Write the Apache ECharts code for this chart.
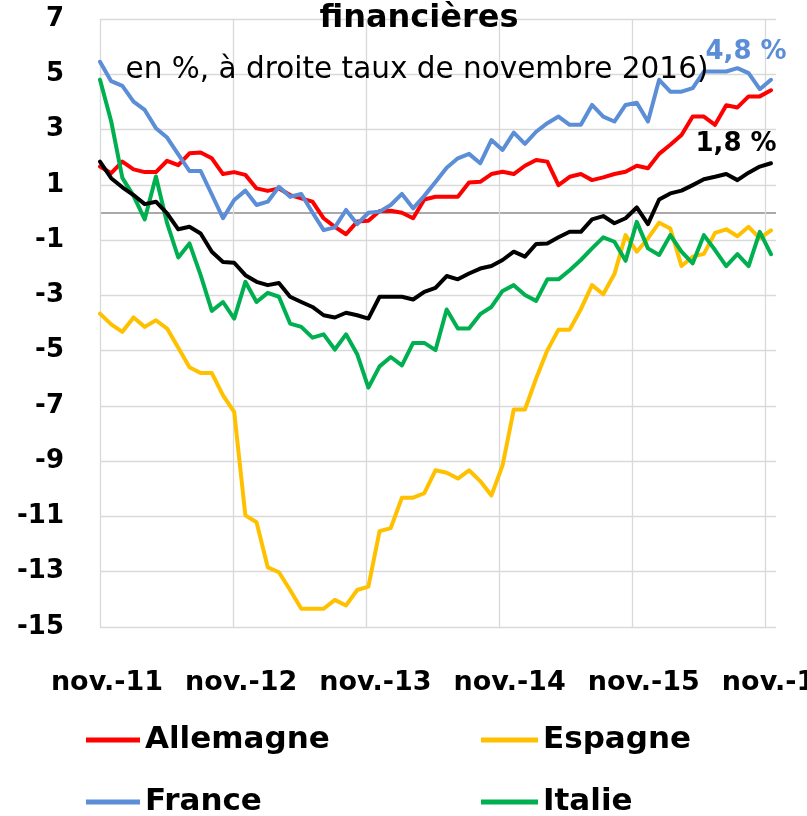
<!DOCTYPE html>
<html>
<head>
<meta charset="utf-8">
<script src="https://cdn.jsdelivr.net/npm/echarts@6/dist/echarts.min.js"></script>
<style>
html, body { margin: 0; padding: 0; background: #fff; }
#chart { width: 807px; height: 816px; }
</style>
</head>
<body>
<div id="chart"></div>
<script>
// x labels, one per year (every 12 months from nov. 2011)
const tickLabels = ['nov.-11', 'nov.-12', 'nov.-13', 'nov.-14', 'nov.-15', 'nov.-16']

// monthly values, nov. 2011 -> nov. 2016 (61 points), in %
const allemagne = [1.66, 1.42, 1.84, 1.56, 1.46, 1.46, 1.87, 1.71, 2.14, 2.17,
    1.96, 1.39, 1.46, 1.36, 0.87, 0.78, 0.87, 0.63, 0.51, 0.39,
    -0.21, -0.52, -0.79, -0.33, -0.30, 0.05, 0.06, -0.01, -0.21, 0.47,
    0.57, 0.57, 0.57, 1.08, 1.11, 1.39, 1.47, 1.39, 1.69, 1.90,
    1.84, 0.99, 1.29, 1.39, 1.17, 1.27, 1.39, 1.47, 1.69, 1.60,
    2.12, 2.45, 2.80, 3.47, 3.47, 3.17, 3.88, 3.80, 4.20, 4.20, 4.42]
const espagne = [-3.66, -4.05, -4.32, -3.80, -4.14, -3.90, -4.20, -4.90, -5.60, -5.81,
    -5.81, -6.62, -7.22, -10.96, -11.21, -12.84, -13.02, -13.66, -14.34, -14.34,
    -14.34, -14.02, -14.22, -13.66, -13.54, -11.53, -11.42, -10.32, -10.32, -10.16,
    -9.33, -9.42, -9.63, -9.33, -9.72, -10.24, -9.15, -7.13, -7.13, -6.01,
    -4.99, -4.24, -4.24, -3.50, -2.63, -2.96, -2.23, -0.82, -1.42, -0.94,
    -0.37, -0.58, -1.94, -1.60, -1.50, -0.74, -0.61, -0.86, -0.52, -0.94, -0.65]
const france = [5.45, 4.75, 4.58, 4.01, 3.71, 3.05, 2.71, 2.10, 1.50, 1.50,
    0.65, -0.21, 0.45, 0.79, 0.27, 0.39, 0.93, 0.57, 0.67, 0.00,
    -0.64, -0.54, 0.09, -0.42, -0.01, 0.03, 0.27, 0.67, 0.15, 0.60,
    1.10, 1.62, 1.96, 2.12, 1.78, 2.62, 2.26, 2.89, 2.48, 2.92,
    3.23, 3.47, 3.17, 3.17, 3.89, 3.47, 3.29, 3.89, 3.97, 3.29,
    4.80, 4.37, 4.37, 4.50, 5.10, 5.10, 5.10, 5.22, 5.04, 4.46, 4.80]
const italie = [4.80, 3.30, 1.25, 0.60, -0.25, 1.30, -0.39, -1.63, -1.12, -2.27,
    -3.56, -3.24, -3.84, -2.51, -3.24, -2.91, -3.05, -4.02, -4.14, -4.53,
    -4.41, -4.96, -4.41, -5.13, -6.34, -5.57, -5.23, -5.53, -4.72, -4.72,
    -4.98, -3.51, -4.20, -4.20, -3.68, -3.42, -2.84, -2.63, -2.99, -3.20,
    -2.42, -2.42, -2.09, -1.72, -1.30, -0.90, -1.06, -1.75, -0.34, -1.30,
    -1.54, -0.82, -1.42, -1.84, -0.82, -1.36, -1.94, -1.51, -1.94, -0.70, -1.51]
const zoneEuro = [1.84, 1.24, 0.91, 0.63, 0.30, 0.39, -0.03, -0.61, -0.52, -0.76,
    -1.42, -1.79, -1.82, -2.27, -2.51, -2.63, -2.55, -3.05, -3.24, -3.42,
    -3.72, -3.80, -3.63, -3.72, -3.84, -3.05, -3.05, -3.05, -3.15, -2.87,
    -2.73, -2.30, -2.42, -2.21, -2.03, -1.94, -1.72, -1.42, -1.60, -1.14,
    -1.12, -0.90, -0.70, -0.70, -0.25, -0.13, -0.39, -0.21, 0.18, -0.42,
    0.47, 0.69, 0.79, 0.99, 1.20, 1.29, 1.39, 1.17, 1.44, 1.66, 1.78]

const FONT = 'DejaVu Sans'

function pairs(vals) {
    return vals.map((v, i) => [i, v])
}

function lineSerie(name, color, vals) {
    return {
        name: name,
        type: 'line',
        data: pairs(vals),
        symbol: 'none',
        smooth: false,
        lineStyle: { color: color, width: 4, cap: 'round', join: 'round' },
        itemStyle: { color: color }
    }
}

// one legend per entry, laid out as a 2x2 block
function legendItem(name, left, top, width) {
    return {
        data: [name],
        left: left,
        top: top,
        icon: 'rect',
        itemWidth: width,
        itemHeight: 5,
        selectedMode: false,
        padding: 0,
        textStyle: { color: '#000', fontFamily: FONT, fontWeight: 'bold', fontSize: 31, lineHeight: 34 }
    }
}

let myChart = echarts.init(document.getElementById('chart'))

let option = {
    animation: false,
    backgroundColor: '#fff',
    textStyle: { fontFamily: FONT },
    grid: { left: 100, right: 31, top: 19, bottom: 189, outerBoundsMode: 'none' },
    xAxis: [
        {
            // months axis, carries the data and the labels
            type: 'value',
            min: 0,
            max: 60.45,
            interval: 12,
            axisLine: { show: false },
            axisTick: { show: false },
            splitLine: { show: false },
            axisLabel: {
                margin: 42,
                showMaxLabel: false,
                color: '#000',
                fontFamily: FONT,
                fontWeight: 'bold',
                fontSize: 27,
                padding: [0, 0, 0, 14],
                formatter: v => (v % 12 === 0 ? tickLabels[v / 12] : '')
            }
        },
        {
            // yearly gridlines
            type: 'value',
            min: 0,
            max: 5.083,
            interval: 1,
            axisLine: { show: false },
            axisTick: { show: false },
            axisLabel: { show: false },
            splitLine: { show: true, showMaxLine: false, lineStyle: { color: '#d9d9d9', width: 1.3 } }
        }
    ],
    yAxis: [
        {
            type: 'value',
            min: -15,
            max: 7,
            interval: 2,
            axisLine: { show: false },
            axisTick: { show: false },
            splitLine: { lineStyle: { color: '#d9d9d9', width: 1.3 } },
            axisLabel: {
                margin: 36,
                color: '#000',
                fontFamily: FONT,
                fontWeight: 'bold',
                fontSize: 26
            }
        },
        {
            // zero line
            type: 'value',
            min: -15,
            max: 7,
            interval: 15,
            axisLine: { show: false },
            axisTick: { show: false },
            axisLabel: { show: false },
            splitLine: { show: true, showMinLine: false, showMaxLine: false, lineStyle: { color: '#8c8c8c', width: 1.5 } }
        }
    ],
    legend: [
        legendItem('Allemagne', 86, 723, 54),
        legendItem('France', 86, 785, 54),
        legendItem('Espagne', 481, 723, 57),
        legendItem('Italie', 481, 785, 57)
    ],
    graphic: [
        {
            type: 'text', z: 10,
            style: { text: 'financières', x: 419, y: 19, align: 'center', verticalAlign: 'middle',
                fill: '#000', font: 'bold 32px "DejaVu Sans"' }
        },
        {
            type: 'text', z: 10,
            style: { text: 'en %, à droite taux de novembre 2016)', x: 417, y: 70, align: 'center', verticalAlign: 'middle',
                fill: '#000', font: '29.5px "DejaVu Sans"' }
        },
        {
            type: 'text', z: 10,
            style: { text: '4,8 %', x: 746, y: 52, align: 'center', verticalAlign: 'middle',
                fill: '#5b8ed6', font: 'bold 26px "DejaVu Sans"' }
        },
        {
            type: 'text', z: 10,
            style: { text: '1,8 %', x: 736, y: 144, align: 'center', verticalAlign: 'middle',
                fill: '#000', font: 'bold 26px "DejaVu Sans"' }
        }
    ],
    series: [
        lineSerie('Allemagne', '#ff0000', allemagne),
        lineSerie('Espagne', '#ffc000', espagne),
        lineSerie('France', '#5b8ed6', france),
        lineSerie('Italie', '#00b050', italie),
        lineSerie('Zone euro', '#000000', zoneEuro)
    ]
}

myChart.setOption(option)
</script>
</body>
</html>
